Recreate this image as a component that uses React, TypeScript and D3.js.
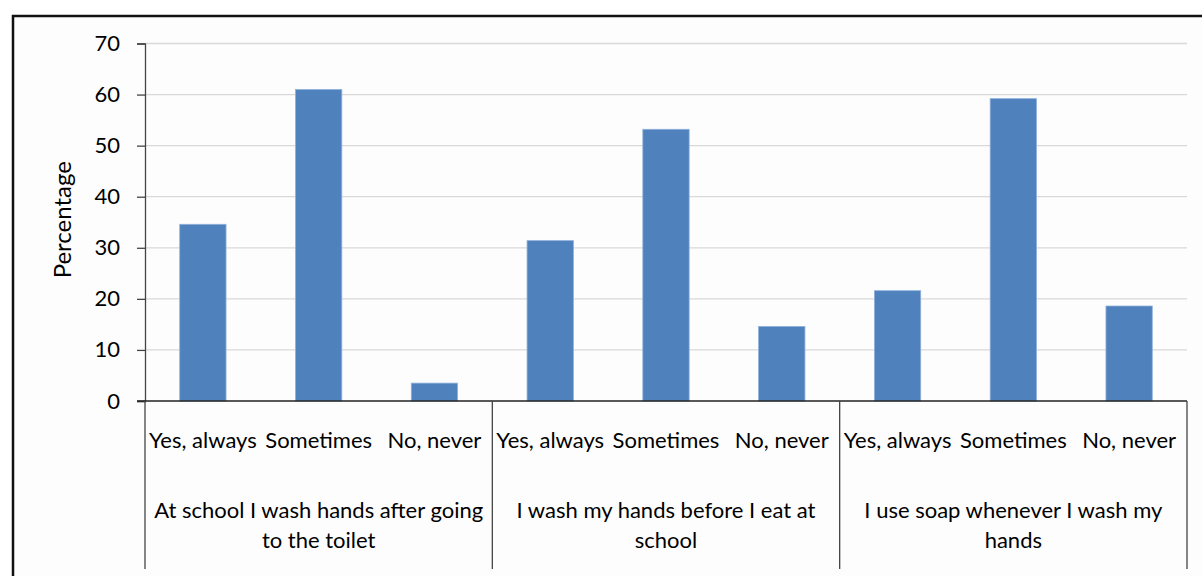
import { useEffect, useRef } from "react";
import * as d3 from "d3";

const groups = [
  "At school I wash hands after going to the toilet",
  "I wash my hands before I eat at school",
  "I use soap whenever I wash my hands",
];
// line breaks as drawn under the axis
const groupLines = [
  ["At school I wash hands after going", "to the toilet"],
  ["I wash my hands before I eat at", "school"],
  ["I use soap whenever I wash my", "hands"],
];
const answers = ["Yes, always", "Sometimes", "No, never"];
const schoolToilet = [34.6, 61.0, 3.5];
const beforeEating = [31.4, 53.2, 14.6];
const useSoap = [21.6, 59.2, 18.6];
const yTicks = [0, 10, 20, 30, 40, 50, 60, 70];

const W = 1202;
const H = 576;
const FONT = "Lato, 'Open Sans', sans-serif";

export default function App() {
  const svgRef = useRef<SVGSVGElement>(null);

  useEffect(() => {
    if (!svgRef.current) return;
    const svg = d3.select(svgRef.current);
    svg.selectAll("*").remove();

    const margin = { top: 43.5, left: 145, right: 15, bottom: 175 };
    const plotW = W - margin.left - margin.right;
    const plotH = H - margin.top - margin.bottom;
    const series = [schoolToilet, beforeEating, useSoap];

    // frame
    svg.append("rect")
      .attr("x", 0).attr("y", 0).attr("width", W).attr("height", H)
      .attr("fill", "#ffffff");
    svg.append("rect")
      .attr("x", 13).attr("y", 16).attr("width", W + 20).attr("height", H + 20)
      .attr("fill", "#fdfdfd")
      .attr("stroke", "#111")
      .attr("stroke-width", 2.5);

    const g = svg.append("g")
      .attr("transform", `translate(${margin.left},${margin.top})`);

    const x0 = d3.scaleBand<string>().domain(groups).range([0, plotW]);
    const x1 = d3.scaleBand<string>()
      .domain(answers)
      .range([0, x0.bandwidth()])
      .paddingInner(0.6)
      .paddingOuter(0.3);
    const y = d3.scaleLinear().domain([0, 70]).range([plotH, 0]);

    // grid
    g.append("g")
      .selectAll("line")
      .data(yTicks.slice(1))
      .join("line")
      .attr("x1", 0).attr("x2", plotW)
      .attr("y1", (d) => y(d)).attr("y2", (d) => y(d))
      .attr("stroke", "#d9d9d9")
      .attr("stroke-width", 1.3);

    // bars
    groups.forEach((grp, gi) => {
      g.append("g")
        .attr("transform", `translate(${x0(grp)},0)`)
        .selectAll("rect")
        .data(series[gi])
        .join("rect")
        .attr("x", (_, i) => x1(answers[i])!)
        .attr("width", x1.bandwidth())
        .attr("y", (d) => y(d))
        .attr("height", (d) => plotH - y(d))
        .attr("fill", "#4f81bd")
        .attr("stroke", "#8eb0da")
        .attr("stroke-width", 0.8);
    });

    // y axis
    const yAxis = g.append("g")
      .call(d3.axisLeft(y).tickValues(yTicks).tickSize(8).tickPadding(17));
    yAxis.select(".domain").attr("stroke", "#444").attr("stroke-width", 1.3);
    yAxis.selectAll(".tick line").attr("stroke", "#444").attr("stroke-width", 1.3);
    yAxis.selectAll(".tick text")
      .attr("font-family", FONT)
      .attr("font-size", 22)
      .attr("fill", "#000");

    // x baseline
    g.append("line")
      .attr("x1", -8).attr("x2", plotW)
      .attr("y1", plotH).attr("y2", plotH)
      .attr("stroke", "#222").attr("stroke-width", 1.5);

    // group dividers
    const dividers = groups.map((grp) => x0(grp)!).concat([plotW]);
    g.append("g")
      .selectAll("line")
      .data(dividers)
      .join("line")
      .attr("x1", (d) => d).attr("x2", (d) => d)
      .attr("y1", plotH).attr("y2", plotH + 168)
      .attr("stroke", "#444").attr("stroke-width", 1.3);

    // category labels
    groups.forEach((grp, gi) => {
      const gx = x0(grp)!;
      g.append("g")
        .selectAll("text")
        .data(answers)
        .join("text")
        .attr("x", (d) => gx + x1(d)! + x1.bandwidth() / 2)
        .attr("y", plotH + 47)
        .attr("text-anchor", "middle")
        .attr("font-family", FONT)
        .attr("font-size", 22)
        .attr("fill", "#000")
        .text((d) => d);

      const t = g.append("text")
        .attr("x", gx + x0.bandwidth() / 2)
        .attr("y", plotH + 117)
        .attr("text-anchor", "middle")
        .attr("font-family", FONT)
        .attr("font-size", 22)
        .attr("fill", "#000");
      groupLines[gi].forEach((ln, li) => {
        t.append("tspan")
          .attr("x", gx + x0.bandwidth() / 2)
          .attr("dy", li === 0 ? 0 : 30)
          .text(ln);
      });
    });

    // y label
    g.append("text")
      .attr("transform", "rotate(-90)")
      .attr("x", -(y(35.5)))
      .attr("y", -74)
      .attr("text-anchor", "middle")
      .attr("font-family", FONT)
      .attr("font-size", 24)
      .attr("fill", "#000")
      .text("Percentage");
  }, []);

  return (
    <svg
      ref={svgRef}
      width={W}
      height={H}
      style={{ position: "absolute", left: 0, top: 0 }}
    />
  );
}
